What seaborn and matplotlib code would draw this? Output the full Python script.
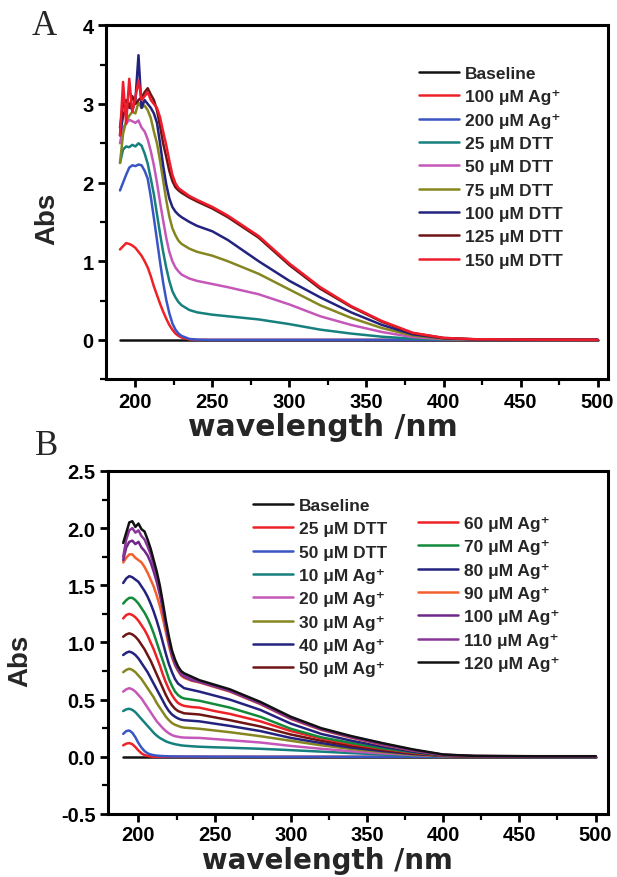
import pandas as pd
import seaborn as sns
import matplotlib.pyplot as plt
from matplotlib.ticker import MultipleLocator, FormatStrFormatter

# ---------------- data: panel A ----------------
wl_a = [190, 192, 194, 196, 198, 200, 202, 204, 206, 208, 210, 212, 214, 216, 218, 220, 222, 224, 226, 228, 230,
        235, 240, 250, 260, 280, 300, 320, 340, 360, 380, 400, 420, 460, 500]

baseline_a = [0, 0, 0, 0, 0, 0, 0, 0, 0, 0, 0, 0, 0, 0, 0, 0, 0, 0, 0, 0, 0,
              0, 0, 0, 0, 0, 0, 0, 0, 0, 0, 0, 0, 0, 0]
ag100_a = [1.15, 1.19, 1.23, 1.22, 1.20, 1.17, 1.12, 1.07, 1.00, 0.92, 0.81, 0.68, 0.57, 0.46, 0.36, 0.27, 0.19, 0.13, 0.08, 0.05, 0.03,
           0.005, 0, 0, 0, 0, 0, 0, 0, 0, 0, 0, 0, 0, 0]
ag200_a = [1.90, 2.00, 2.10, 2.19, 2.22, 2.21, 2.23, 2.22, 2.15, 2.05, 1.82, 1.55, 1.27, 0.99, 0.73, 0.51, 0.34, 0.21, 0.13, 0.08, 0.05,
           0.012, 0.003, 0, 0, 0, 0, 0, 0, 0, 0, 0, 0, 0, 0]
dtt25_a = [2.25, 2.42, 2.46, 2.45, 2.48, 2.46, 2.50, 2.47, 2.37, 2.24, 2.05, 1.85, 1.60, 1.35, 1.12, 0.92, 0.75, 0.62, 0.54, 0.48, 0.44,
           0.38, 0.35, 0.32, 0.30, 0.26, 0.20, 0.13, 0.08, 0.04, 0.015, 0.005, 0, 0, 0]
dtt50_a = [2.50, 2.70, 2.75, 2.80, 2.78, 2.76, 2.79, 2.70, 2.65, 2.55, 2.40, 2.22, 2.00, 1.75, 1.52, 1.30, 1.12, 1.00, 0.92, 0.87, 0.83,
           0.78, 0.75, 0.71, 0.67, 0.58, 0.45, 0.30, 0.19, 0.10, 0.035, 0.01, 0.004, 0, 0]
dtt75_a = [2.25, 2.62, 2.78, 2.85, 2.90, 2.88, 3.02, 2.95, 2.98, 2.92, 2.82, 2.65, 2.50, 2.28, 2.03, 1.78, 1.57, 1.42, 1.33, 1.26, 1.22,
           1.16, 1.12, 1.07, 1.00, 0.84, 0.64, 0.44, 0.28, 0.15, 0.055, 0.015, 0.005, 0.001, 0]
dtt100_a = [2.60, 2.85, 2.95, 3.00, 2.92, 3.05, 3.62, 2.95, 3.05, 3.00, 2.95, 2.88, 2.76, 2.50, 2.22, 1.98, 1.80, 1.69, 1.63, 1.59, 1.56,
            1.50, 1.45, 1.38, 1.27, 1.00, 0.75, 0.54, 0.35, 0.19, 0.07, 0.02, 0.006, 0.002, 0]
dtt125_a = [2.70, 3.00, 3.05, 2.95, 3.10, 3.00, 3.05, 3.08, 3.15, 3.20, 3.12, 3.05, 2.92, 2.72, 2.50, 2.33, 2.15, 2.02, 1.94, 1.90, 1.87,
            1.81, 1.76, 1.67, 1.56, 1.30, 0.95, 0.65, 0.42, 0.23, 0.085, 0.024, 0.008, 0.003, 0]
dtt150_a = [2.60, 3.28, 2.75, 3.32, 2.90, 3.08, 3.30, 3.05, 3.10, 3.15, 3.05, 3.00, 2.95, 2.83, 2.65, 2.48, 2.28, 2.10, 1.99, 1.93, 1.90,
            1.83, 1.78, 1.69, 1.58, 1.32, 0.97, 0.67, 0.43, 0.24, 0.09, 0.025, 0.008, 0.003, 0]

labels_a = ['Baseline', '100 μM Ag⁺', '200 μM Ag⁺', '25 μM DTT', '50 μM DTT',
            '75 μM DTT', '100 μM DTT', '125 μM DTT', '150 μM DTT']
series_a = [baseline_a, ag100_a, ag200_a, dtt25_a, dtt50_a, dtt75_a, dtt100_a, dtt125_a, dtt150_a]
colors_a = ['#111111', '#ee2226', '#3a55c4', '#16807e', '#c557b8', '#85861f', '#23237f', '#6e1414', '#ee1c2c']

# ---------------- data: panel B ----------------
wl_b = [190, 192, 194, 196, 198, 200, 202, 204, 206, 208, 210, 212, 214, 216, 218, 220, 222, 224, 226, 228, 230,
        235, 240, 250, 260, 280, 300, 320, 340, 360, 380, 400, 420, 460, 500]

baseline_b = [0, 0, 0, 0, 0, 0, 0, 0, 0, 0, 0, 0, 0, 0, 0, 0, 0, 0, 0, 0, 0,
              0, 0, 0, 0, 0, 0, 0, 0, 0, 0, 0, 0, 0, 0]
dtt25_b = [0.10, 0.115, 0.12, 0.11, 0.085, 0.055, 0.03, 0.015, 0.007, 0.003, 0, 0, 0, 0, 0, 0, 0, 0, 0, 0, 0,
           0, 0, 0, 0, 0, 0, 0, 0, 0, 0, 0, 0, 0, 0]
dtt50_b = [0.20, 0.225, 0.23, 0.21, 0.17, 0.12, 0.08, 0.05, 0.03, 0.02, 0.014, 0.01, 0.008, 0.006, 0.005, 0.004, 0.003, 0.003, 0.003, 0.003, 0.002,
           0.002, 0.002, 0.001, 0.001, 0, 0, 0, 0, 0, 0, 0, 0, 0, 0]
ag10_b = [0.40, 0.415, 0.42, 0.41, 0.39, 0.36, 0.33, 0.30, 0.27, 0.24, 0.21, 0.185, 0.165, 0.15, 0.135, 0.125, 0.117, 0.11, 0.105, 0.10, 0.097,
          0.092, 0.088, 0.083, 0.079, 0.07, 0.058, 0.045, 0.032, 0.02, 0.01, 0.003, 0.001, 0, 0]
ag20_b = [0.57, 0.59, 0.60, 0.59, 0.57, 0.54, 0.51, 0.47, 0.43, 0.39, 0.35, 0.31, 0.28, 0.25, 0.225, 0.205, 0.19, 0.18, 0.175, 0.17, 0.168,
          0.166, 0.165, 0.155, 0.145, 0.125, 0.095, 0.07, 0.048, 0.03, 0.015, 0.005, 0.002, 0, 0]
ag30_b = [0.74, 0.76, 0.77, 0.76, 0.74, 0.71, 0.68, 0.64, 0.60, 0.56, 0.52, 0.47, 0.43, 0.39, 0.35, 0.32, 0.295, 0.28, 0.27, 0.26, 0.255,
          0.25, 0.245, 0.23, 0.215, 0.18, 0.14, 0.10, 0.068, 0.042, 0.02, 0.006, 0.002, 0.001, 0.001]
ag40_b = [0.89, 0.91, 0.92, 0.91, 0.89, 0.86, 0.82, 0.78, 0.74, 0.69, 0.64, 0.59, 0.54, 0.49, 0.44, 0.40, 0.37, 0.35, 0.335, 0.325, 0.32,
          0.315, 0.31, 0.29, 0.27, 0.225, 0.165, 0.12, 0.08, 0.05, 0.025, 0.008, 0.003, 0.001, 0.001]
ag50_b = [1.05, 1.07, 1.08, 1.07, 1.05, 1.02, 0.98, 0.94, 0.89, 0.84, 0.78, 0.72, 0.66, 0.60, 0.54, 0.49, 0.45, 0.42, 0.40, 0.39, 0.38,
          0.375, 0.37, 0.345, 0.32, 0.265, 0.195, 0.14, 0.095, 0.06, 0.03, 0.009, 0.003, 0.001, 0.001]
ag60_b = [1.21, 1.24, 1.25, 1.24, 1.22, 1.19, 1.15, 1.11, 1.06, 1.00, 0.94, 0.87, 0.80, 0.72, 0.65, 0.59, 0.54, 0.50, 0.47, 0.455, 0.445,
          0.435, 0.43, 0.40, 0.375, 0.31, 0.225, 0.16, 0.11, 0.07, 0.035, 0.01, 0.004, 0.002, 0.002]
ag70_b = [1.34, 1.37, 1.39, 1.39, 1.37, 1.34, 1.30, 1.26, 1.21, 1.15, 1.08, 1.00, 0.92, 0.84, 0.76, 0.68, 0.62, 0.57, 0.54, 0.52, 0.51,
          0.50, 0.49, 0.46, 0.43, 0.35, 0.245, 0.17, 0.12, 0.075, 0.04, 0.012, 0.004, 0.002, 0.002]
ag80_b = [1.52, 1.56, 1.58, 1.57, 1.55, 1.53, 1.49, 1.45, 1.40, 1.34, 1.27, 1.19, 1.10, 1.00, 0.90, 0.81, 0.74, 0.68, 0.64, 0.62, 0.60,
          0.585, 0.57, 0.535, 0.50, 0.41, 0.29, 0.20, 0.14, 0.09, 0.045, 0.013, 0.005, 0.002, 0.002]
ag90_b = [1.70, 1.74, 1.77, 1.77, 1.74, 1.72, 1.70, 1.66, 1.61, 1.55, 1.49, 1.41, 1.32, 1.21, 1.09, 0.97, 0.87, 0.80, 0.75, 0.71, 0.69,
          0.665, 0.65, 0.61, 0.57, 0.46, 0.33, 0.235, 0.165, 0.105, 0.055, 0.016, 0.006, 0.003, 0.003]
ag100_b = [1.72, 1.83, 1.88, 1.89, 1.86, 1.88, 1.83, 1.80, 1.76, 1.70, 1.62, 1.53, 1.42, 1.29, 1.14, 1.00, 0.89, 0.81, 0.76, 0.72, 0.70,
           0.67, 0.655, 0.615, 0.575, 0.465, 0.335, 0.24, 0.17, 0.11, 0.058, 0.017, 0.006, 0.003, 0.003]
ag110_b = [1.75, 1.90, 1.98, 2.00, 1.96, 1.98, 1.93, 1.90, 1.84, 1.77, 1.68, 1.58, 1.46, 1.32, 1.16, 1.02, 0.90, 0.82, 0.77, 0.73, 0.71,
           0.68, 0.66, 0.62, 0.58, 0.47, 0.34, 0.245, 0.175, 0.115, 0.06, 0.018, 0.007, 0.004, 0.004]
ag120_b = [1.87, 1.96, 2.05, 2.06, 2.01, 2.04, 1.99, 1.97, 1.90, 1.82, 1.72, 1.62, 1.50, 1.35, 1.19, 1.05, 0.93, 0.85, 0.79, 0.75, 0.73,
           0.70, 0.67, 0.63, 0.59, 0.48, 0.35, 0.25, 0.18, 0.12, 0.065, 0.02, 0.008, 0.005, 0.005]

labels_b = ['Baseline', '25 μM DTT', '50 μM DTT', '10 μM Ag⁺', '20 μM Ag⁺', '30 μM Ag⁺', '40 μM Ag⁺', '50 μM Ag⁺',
            '60 μM Ag⁺', '70 μM Ag⁺', '80 μM Ag⁺', '90 μM Ag⁺', '100 μM Ag⁺', '110 μM Ag⁺', '120 μM Ag⁺']
series_b = [baseline_b, dtt25_b, dtt50_b, ag10_b, ag20_b, ag30_b, ag40_b, ag50_b,
            ag60_b, ag70_b, ag80_b, ag90_b, ag100_b, ag110_b, ag120_b]
colors_b = ['#111111', '#ee2226', '#3a55c4', '#16807e', '#c557b8', '#85861f', '#23237f', '#6e1414',
            '#ee2226', '#138a3a', '#23237f', '#f2602e', '#70278a', '#8a3699', '#111111']


def long_table(wl, series, labels):
    frames = [pd.DataFrame({'wl': wl, 'abs': s, 'label': lab}) for s, lab in zip(series, labels)]
    return pd.concat(frames, ignore_index=True)


df_a = long_table(wl_a, series_a, labels_a)
df_b = long_table(wl_b, series_b, labels_b)

sns.set_style('white')
plt.rcParams['font.family'] = ['Liberation Sans', 'DejaVu Sans']
plt.rcParams['font.weight'] = 'bold'
plt.rcParams['axes.unicode_minus'] = False

fig = plt.figure(figsize=(6.17, 8.78), dpi=100)
ax_a = fig.add_axes([0.172, 0.567, 0.814, 0.403])
ax_b = fig.add_axes([0.175, 0.0718, 0.810, 0.3907])

sns.lineplot(data=df_a, x='wl', y='abs', hue='label', hue_order=labels_a,
             palette=dict(zip(labels_a, colors_a)), estimator=None, sort=False,
             linewidth=1.8, legend=False, ax=ax_a)
sns.lineplot(data=df_b, x='wl', y='abs', hue='label', hue_order=labels_b,
             palette=dict(zip(labels_b, colors_b)), estimator=None, sort=False,
             linewidth=1.8, legend=False, ax=ax_b)

for ax in (ax_a, ax_b):
    for sp in ax.spines.values():
        sp.set_visible(True)
        sp.set_color('black')
        sp.set_linewidth(2.2)
    ax.xaxis.set_major_locator(MultipleLocator(50))
    ax.xaxis.set_minor_locator(MultipleLocator(25))
    ax.tick_params(axis='both', which='major', direction='out', length=6, width=2,
                   colors='black', labelsize=14.5, bottom=True, left=True, top=False, right=False)
    ax.tick_params(axis='both', which='minor', direction='out', length=4, width=1.6,
                   colors='black', bottom=True, left=True, top=False, right=False)
    ax.tick_params(axis='y', which='major', pad=3)
    ax.grid(False)
ax_a.tick_params(axis='x', which='major', pad=3)
ax_b.tick_params(axis='x', which='major', pad=2)

ax_a.set_xlim(181, 507)
ax_a.set_ylim(-0.5, 4)
ax_a.yaxis.set_major_locator(MultipleLocator(1))
ax_a.yaxis.set_minor_locator(MultipleLocator(0.5))
ax_a.yaxis.set_major_formatter(FormatStrFormatter('%d'))

ax_b.set_xlim(180, 508)
ax_b.set_ylim(-0.5, 2.5)
ax_b.yaxis.set_major_locator(MultipleLocator(0.5))
ax_b.yaxis.set_minor_locator(MultipleLocator(0.25))
ax_b.yaxis.set_major_formatter(FormatStrFormatter('%.1f'))

ax_a.set_xlabel('wavelength /nm', family='DejaVu Sans', fontsize=21.5, fontweight='bold')
ax_b.set_xlabel('wavelength /nm', family='DejaVu Sans', fontsize=20, fontweight='bold')
for ax, lx, ly in ((ax_a, -0.092, 0.455), (ax_b, -0.15, 0.45)):
    ax.set_ylabel('Abs', fontsize=20, fontweight='bold')
    ax.yaxis.set_label_coords(lx, ly)
ax_a.xaxis.set_label_coords(0.432, -0.093)
ax_b.xaxis.set_label_coords(0.44, -0.093)

leg_kw = dict(frameon=False, handlelength=2.3, handletextpad=0.35, labelspacing=0.47,
              borderpad=0, borderaxespad=0, loc='upper left',
              prop={'weight': 'bold', 'size': 12.5})

lines_a = ax_a.get_lines()
ax_a.legend(lines_a, labels_a, bbox_to_anchor=(0.623, 0.885), **leg_kw)

lines_b = ax_b.get_lines()
leg1 = ax_b.legend(lines_b[:8], labels_b[:8], bbox_to_anchor=(0.29, 0.921), **leg_kw)
ax_b.add_artist(leg1)
ax_b.legend(lines_b[8:], labels_b[8:], bbox_to_anchor=(0.62, 0.869), **leg_kw)

fig.text(0.052, 0.960, 'A', family='Liberation Serif', fontsize=25, fontweight='normal')
fig.text(0.056, 0.482, 'B', family='Liberation Serif', fontsize=25, fontweight='normal')

fig.savefig('out.png', dpi=100, facecolor='white')
